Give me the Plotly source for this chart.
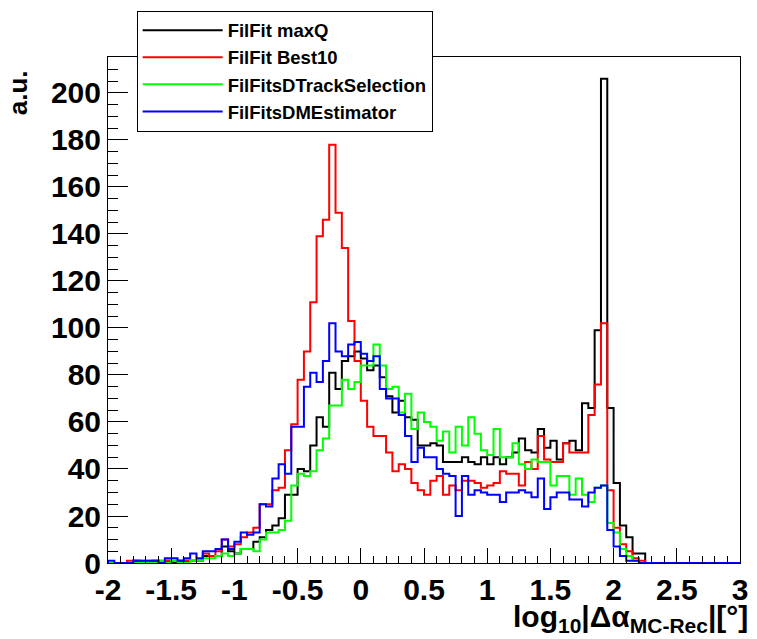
import numpy as np
import plotly.graph_objects as go

# histogram binning
x_min = -2.0
x_max = 3.0
n_bins = 100

series_names = ["FilFit maxQ", "FilFit Best10", "FilFitsDTrackSelection", "FilFitsDMEstimator"]
series_colors = ["#000000", "#ff0000", "#00ff00", "#0000ff"]

maxq = [0, 0, 0, 0, 1, 0, 0, 1, 0, 1,
        0, 1, 1, 1, 1, 3, 3, 3, 7, 5,
        4, 6, 6, 9, 11, 14, 16, 19, 29, 29,
        40, 39, 50, 62, 58, 81, 74, 86, 88, 90,
        87, 82, 84, 79, 71, 64, 69, 62, 61, 50,
        50, 51, 50, 43, 43, 43, 45, 43, 42, 45,
        42, 45, 42, 45, 47, 53, 48, 47, 57, 49,
        52, 44, 51, 52, 48, 68, 66, 99, 206, 66,
        34, 16, 11, 4, 4, 0, 0, 0, 0, 0,
        0, 0, 0, 0, 0, 0, 0, 0, 0, 0]

best10 = [0, 0, 0, 1, 1, 1, 1, 1, 1, 1,
          1, 1, 1, 1, 1, 4, 3, 5, 10, 7,
          8, 11, 13, 15, 25, 25, 31, 32, 48, 59,
          78, 90, 111, 139, 146, 178, 149, 134, 103, 86,
          69, 58, 54, 54, 47, 39, 42, 40, 34, 31,
          29, 35, 37, 29, 33, 31, 35, 35, 34, 32,
          33, 34, 39, 38, 38, 33, 43, 40, 54, 44,
          43, 43, 51, 47, 47, 47, 63, 76, 102, 31,
          15, 8, 5, 2, 1, 0, 0, 0, 0, 0,
          0, 0, 0, 0, 0, 0, 0, 0, 0, 0]

dtrack = [0, 0, 0, 0, 0, 0, 0, 0, 1, 0,
          1, 0, 0, 1, 1, 2, 2, 3, 4, 3,
          4, 6, 6, 5, 10, 13, 13, 14, 18, 33,
          38, 37, 39, 48, 53, 67, 67, 78, 74, 77,
          84, 84, 93, 84, 74, 75, 64, 72, 57, 64,
          60, 58, 52, 56, 47, 58, 50, 62, 55, 48,
          46, 57, 45, 45, 51, 42, 40, 44, 43, 43,
          33, 37, 37, 29, 36, 29, 26, 32, 33, 17,
          13, 6, 3, 1, 0, 0, 0, 0, 0, 0,
          0, 0, 0, 0, 0, 0, 0, 0, 0, 0]

dmest = [1, 0, 0, 0, 1, 1, 1, 1, 0, 2,
         2, 1, 2, 4, 2, 5, 5, 6, 10, 6,
         9, 13, 12, 13, 25, 24, 36, 42, 38, 58,
         58, 75, 81, 77, 86, 102, 90, 88, 93, 94,
         89, 86, 88, 74, 70, 70, 63, 54, 43, 49,
         45, 45, 40, 38, 37, 20, 37, 29, 31, 30,
         29, 29, 26, 30, 30, 31, 30, 28, 36, 23,
         28, 30, 30, 27, 27, 24, 30, 32, 33, 14,
         7, 3, 1, 1, 0, 0, 0, 0, 0, 0,
         0, 0, 0, 0, 0, 0, 0, 0, 0, 0]

x_tick_vals = [-2, -1.5, -1, -0.5, 0, 0.5, 1, 1.5, 2, 2.5, 3]
x_tick_text = ["-2", "-1.5", "-1", "-0.5", "0", "0.5", "1", "1.5", "2", "2.5", "3"]
y_tick_vals = [0, 20, 40, 60, 80, 100, 120, 140, 160, 180, 200]
y_tick_text = [str(v) for v in y_tick_vals]

edges = np.linspace(x_min, x_max, n_bins + 1)

fig = go.Figure()
for name, color, vals in zip(series_names, series_colors, [maxq, best10, dtrack, dmest]):
    xs = [edges[0]] + list(edges)
    ys = [0] + list(vals) + [0]
    fig.add_trace(go.Scatter(x=xs, y=ys, mode="lines", name=name,
                             line=dict(color=color, width=2, shape="hv")))

font_fam = "Liberation Sans"
fig.update_layout(
    width=757, height=639,
    margin=dict(l=108, r=9, t=57, b=76),
    paper_bgcolor="white", plot_bgcolor="white",
    showlegend=True,
    legend=dict(x=0.0453, y=1.0915, xanchor="left", yanchor="top",
                bgcolor="white", bordercolor="black", borderwidth=1,
                font=dict(family=font_fam, size=18.5, color="black", weight="bold"),
                itemwidth=80, tracegroupgap=0),
    xaxis=dict(range=[x_min, x_max], showgrid=False, zeroline=False,
               showline=True, linecolor="black", linewidth=1, mirror=True,
               ticks="inside", ticklen=15, tickwidth=1, tickcolor="black",
               tickvals=x_tick_vals, ticktext=x_tick_text,
               tickfont=dict(family=font_fam, size=30, color="black", weight="bold"),
               minor=dict(dtick=0.1, ticklen=7, ticks="inside", tickcolor="black", tickwidth=1)),
    yaxis=dict(range=[0, 215.3], showgrid=False, zeroline=False,
               showline=True, linecolor="black", linewidth=1, mirror=True,
               ticks="inside", ticklen=20, tickwidth=1, tickcolor="black",
               tickvals=y_tick_vals, ticktext=y_tick_text,
               tickfont=dict(family=font_fam, size=30, color="black", weight="bold"),
               minor=dict(dtick=5, ticklen=10, ticks="inside", tickcolor="black", tickwidth=1)),
    annotations=[
        dict(text="a.u.", xref="paper", yref="paper", x=-0.143, y=0.978,
             xanchor="center", yanchor="top", textangle=-90, showarrow=False,
             font=dict(family=font_fam, size=26, color="black", weight="bold")),
        dict(text="log<sub>10</sub>|Δα<sub>MC-Rec</sub>|[°]", xref="paper", yref="paper",
             x=1.016, y=-0.07, xanchor="right", yanchor="top", showarrow=False,
             font=dict(family=font_fam, size=30, color="black", weight="bold")),
    ],
)

fig.write_html("out.html")
